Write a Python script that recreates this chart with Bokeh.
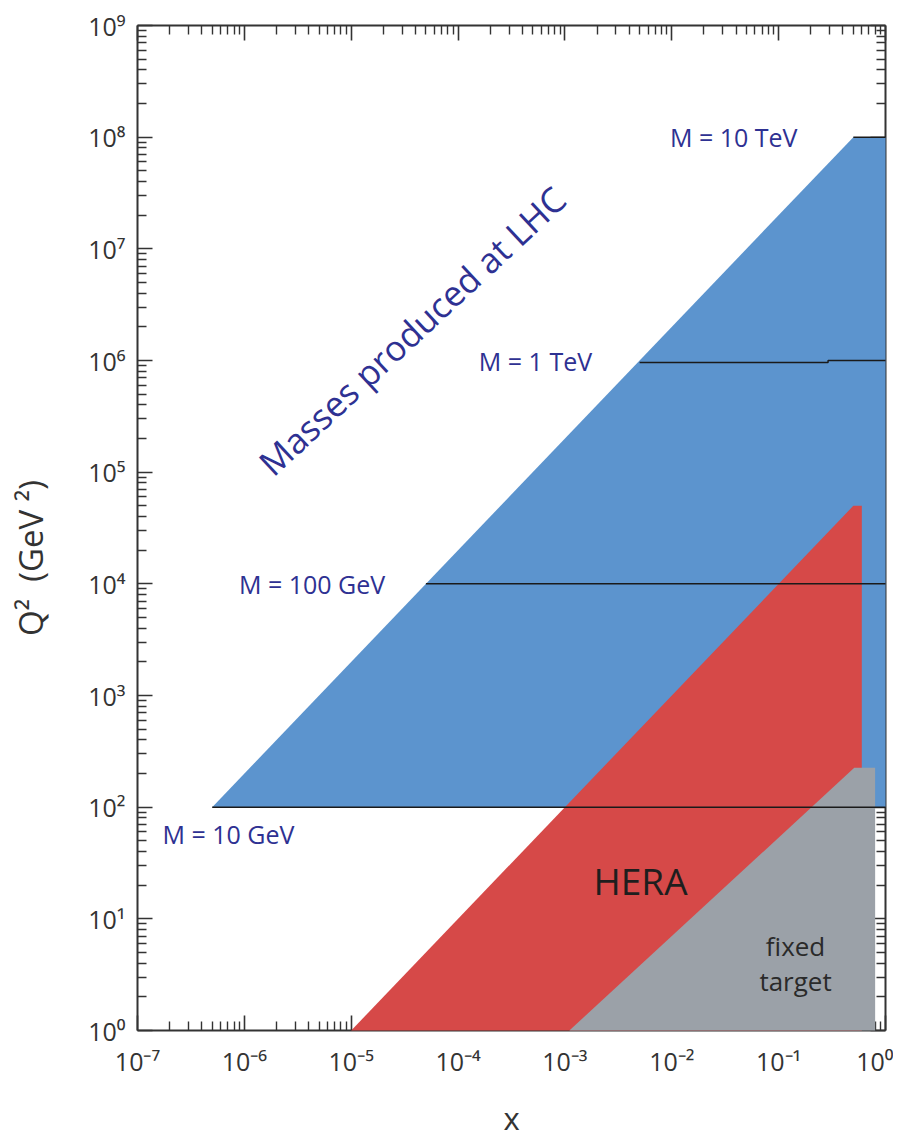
import math
from bokeh.plotting import figure
from bokeh.models import (LogAxis, FixedTicker, CustomJSTickFormatter,
                          Range1d, ColumnDataSource)
from bokeh.embed import file_html
from bokeh.resources import INLINE
from bokeh.core.properties import value

# ---------------- data ----------------
x_ticks = [1e-7, 1e-6, 1e-5, 1e-4, 1e-3, 1e-2, 1e-1, 1e0]
q2_ticks = [1e0, 1e1, 1e2, 1e3, 1e4, 1e5, 1e6, 1e7, 1e8, 1e9]

# kinematic regions (x, Q^2 in GeV^2)
lhc_x = [5e-7, 0.5, 1.0, 1.0]
lhc_q2 = [1e2, 1e8, 1e8, 1e2]
hera_x = [1e-5, 0.5, 0.6, 0.6]
hera_q2 = [1.0, 5e4, 5e4, 1.0]
ft_x = [1.1e-3, 0.51, 0.8, 0.8]
ft_q2 = [1.0, 225.0, 225.0, 1.0]

# mass lines M^2 = Q^2
mass_labels = ["M = 10 GeV", "M = 100 GeV", "M = 1 TeV", "M = 10 TeV"]
mass_line_x = [[5e-7, 1.0], [5e-5, 1.0], [5e-3, 0.29, 0.29, 1.0], [0.5, 1.0]]
mass_line_q2 = [[1e2, 1e2], [1e4, 1e4], [9.6e5, 9.6e5, 1e6, 1e6], [1e8, 1e8]]
mass_label_x = [7.1e-7, 4.3e-6, 5.3e-4, 3.8e-2]
mass_label_q2 = [58.0, 1e4, 1e6, 1e8]

# region labels
region_labels = ["HERA", "fixed", "target"]
region_label_x = [5.1e-3, 0.144, 0.144]
region_label_q2 = [22.0, 5.77, 2.8]

# ---------------- styles ----------------
BLUE = "#5c94ce"
RED = "#d64948"
GRAY = "#9ba1a8"
NAVY = "#2e3192"
AXIS = "#333333"
FONT = "Open Sans"
TOP = "annotation"   # draw data on top of the inward ticks

p = figure(x_axis_type="log", y_axis_type="log",
           x_range=Range1d(1e-7, 1.0), y_range=Range1d(1.0, 1e9),
           frame_width=748, frame_height=1005,
           min_border_left=137, min_border_right=8,
           min_border_top=25, min_border_bottom=113,
           output_backend="svg", toolbar_location=None)
p.outline_line_color = None
p.grid.visible = False
p.background_fill_color = "white"
p.border_fill_color = "white"

sup_code = """
const sup = {"0":"\u2070","1":"\u00b9","2":"\u00b2","3":"\u00b3","4":"\u2074",
             "5":"\u2075","6":"\u2076","7":"\u2077","8":"\u2078","9":"\u2079","-":"\u207b"};
const e = Math.round(Math.log10(tick));
return "10" + String(e).split("").map(c => sup[c]).join("");
"""


def minors(major):
    out = []
    for t in major[:-1]:
        for m in range(2, 10):
            out.append(m * t)
    return out


def style_axis(ax, ticks, show_labels):
    ax.ticker = FixedTicker(ticks=ticks, minor_ticks=minors(ticks))
    ax.axis_line_width = 2
    ax.axis_line_color = AXIS
    ax.major_tick_in = 15
    ax.major_tick_out = 0
    ax.minor_tick_in = 9
    ax.minor_tick_out = 0
    ax.major_tick_line_width = 1.6
    ax.minor_tick_line_width = 1.4
    ax.major_tick_line_color = AXIS
    ax.minor_tick_line_color = AXIS
    if show_labels:
        ax.formatter = CustomJSTickFormatter(code=sup_code)
        ax.major_label_text_font = FONT
        ax.major_label_text_font_size = "25px"
        ax.major_label_text_color = "#333333"
        ax.axis_label_text_font = FONT
        ax.axis_label_text_font_style = "normal"
        ax.axis_label_text_color = "#333333"
    else:
        ax.formatter = CustomJSTickFormatter(code="return '';")
        ax.major_label_text_font_size = "0px"
        ax.major_label_standoff = 0


style_axis(p.xaxis[0], x_ticks, True)
style_axis(p.yaxis[0], q2_ticks, True)
p.xaxis[0].major_label_standoff = 13
p.yaxis[0].major_label_standoff = 12
p.xaxis[0].axis_label = "x"
p.xaxis[0].axis_label_text_font_size = "31px"
p.xaxis[0].axis_label_standoff = 16
NB = "\u00a0"
p.yaxis[0].axis_label = "Q\u00b2" + NB * 2 + "(GeV" + NB + "\u00b2)" + NB * 7
p.yaxis[0].axis_label_text_font_size = "33px"
p.yaxis[0].axis_label_standoff = 32

top = LogAxis()
style_axis(top, x_ticks, False)
p.add_layout(top, "above")
right = LogAxis()
style_axis(right, q2_ticks, False)
p.add_layout(right, "right")

# regions
p.patch(lhc_x, lhc_q2, fill_color=BLUE, line_color=None, level=TOP)
p.patch(hera_x, hera_q2, fill_color=RED, line_color=None, level=TOP)
p.patch(ft_x, ft_q2, fill_color=GRAY, line_color=None, level=TOP)

# mass lines
p.multi_line(xs=mass_line_x, ys=mass_line_q2, line_color="#1a1a1a",
             line_width=1.5, level=TOP)

# mass labels
src = ColumnDataSource(dict(x=mass_label_x, y=mass_label_q2, t=mass_labels))
p.text(x="x", y="y", text="t", source=src, text_font=value(FONT),
       text_font_size="25px", text_color=NAVY, text_align="center",
       text_baseline="middle", level=TOP)

p.text(x=[3.7e-5], y=[1.85e6], text=["Masses produced at LHC"],
       angle=math.radians(43), text_font=value(FONT), text_font_size="35px",
       text_color=NAVY, text_align="center", text_baseline="middle", level=TOP)

rsrc = ColumnDataSource(dict(x=region_label_x, y=region_label_q2, t=region_labels,
                             s=["37px", "26px", "26px"],
                             c=["#1e1e1e", "#2a2a2a", "#2a2a2a"]))
p.text(x="x", y="y", text="t", source=rsrc, text_font=value(FONT),
       text_font_size="s", text_color="c", text_align="center",
       text_baseline="middle", level=TOP)

open("out.html", "w").write(file_html(p, INLINE))
